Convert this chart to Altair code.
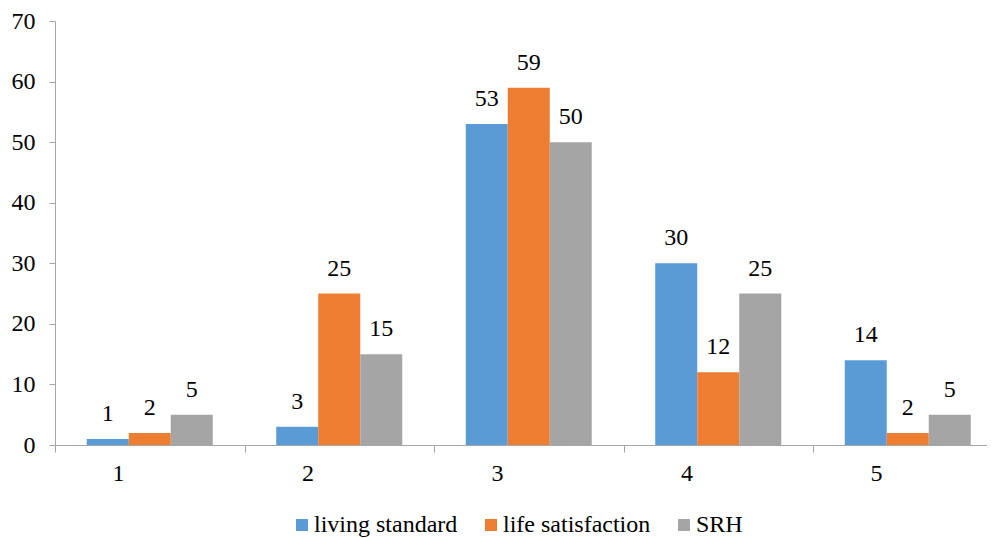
import altair as alt
import pandas as pd

categories = ["1", "2", "3", "4", "5"]
series = ["living standard", "life satisfaction", "SRH"]
living_standard = [1, 3, 53, 30, 14]
life_satisfaction = [2, 25, 59, 12, 2]
srh = [5, 15, 50, 25, 5]
colors = ["#5B9BD5", "#ED7D31", "#A5A5A5"]

rows = []
for name, vals in zip(series, [living_standard, life_satisfaction, srh]):
    for c, v in zip(categories, vals):
        rows.append({"cat": c, "series": name, "value": v})
df = pd.DataFrame(rows)

FONT = "Liberation Serif"
FS = 24
AX = "#A6A6A6"

x = alt.X("cat:N", sort=categories, title=None,
          scale=alt.Scale(paddingInner=0.335, paddingOuter=0.1675, range=[0, 947.5]),
          axis=alt.Axis(labelAngle=0, bandPosition=0, tickOffset=-31.7, tickSize=7,
                        tickColor=AX, domainColor=AX, labelFont=FONT, labelFontSize=FS,
                        labelColor="#000000", labelPadding=9,
                        labelBound=False, labelOverlap=False))
xo = alt.XOffset("series:N", sort=series, scale=alt.Scale(domain=series))
y = alt.Y("value:Q", title=None,
          scale=alt.Scale(domain=[0, 70], nice=False),
          axis=alt.Axis(values=list(range(0, 80, 10)), grid=False, tickSize=6,
                        tickColor=AX, domainColor=AX, labelFont=FONT,
                        labelFontSize=FS, labelColor="#000000", labelPadding=14))

bars = alt.Chart(df).mark_bar().encode(
    x=x, xOffset=xo, y=y,
    color=alt.Color("series:N", sort=series,
                    scale=alt.Scale(domain=series, range=colors),
                    legend=alt.Legend(title=None, orient="none", direction="horizontal",
                                      legendX=235, legendY=492, symbolType="square",
                                      symbolSize=144, symbolStrokeWidth=0,
                                      labelFont=FONT, labelFontSize=FS,
                                      labelColor="#000000", labelOffset=0,
                                      columnPadding=21))
)

text = alt.Chart(df).mark_text(font=FONT, fontSize=FS, color="#000000",
                               baseline="alphabetic", dy=-18).encode(
    x=x, xOffset=xo, y=y, text="value:Q"
)

chart = (bars + text).properties(
    width=932, height=424,
    autosize=alt.AutoSizeParams(type="none"),
    padding={"left": 47, "top": 13, "right": 0, "bottom": 95},
).configure_view(stroke=None)

chart.save("out.html", embed_options={"renderer": "svg", "actions": False})
